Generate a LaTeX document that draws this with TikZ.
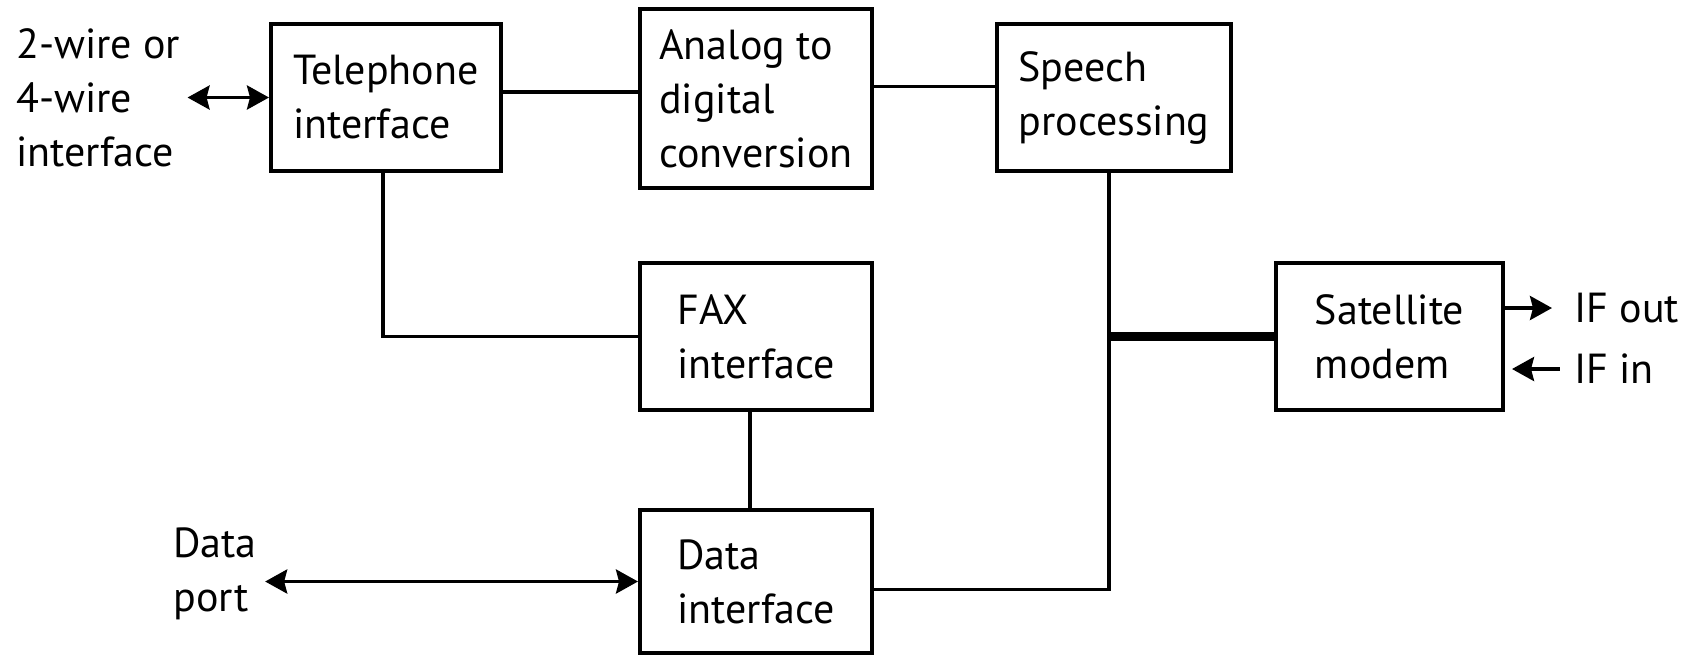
\documentclass[tikz,border=0pt]{standalone}
\usepackage{fontspec}
\setmainfont{PT Sans}
\usetikzlibrary{arrows.meta,positioning}

\begin{document}
\begin{tikzpicture}[x=0.5pt,y=-0.5pt,
>={Stealth[length=11pt,width=12pt,inset=1.5pt]},
every node/.style={align=left, font=\fontsize{21}{27}\selectfont},
block/.style={draw=black, line width=2pt, inner sep=0pt,
    minimum width=116pt, minimum height=73.5pt},
lbl/.style={inner sep=0pt},
conn/.style={black, line width=1.8pt},
busline/.style={black, line width=4.5pt}]
\useasboundingbox (0,0) rectangle (1696,655);

% blocks
\node [block, minimum width=115pt] (tel) at (386,97.5) {Telephone\\interface};
\node [block, minimum height=89.5pt] (adc) at (756,98.5) {Analog to\\digital\\conversion};
\node [block, minimum width=117pt] (sp) at (1114,97.5) {Speech\\processing};
\node [block, below=35.5pt of adc] (fax) {FAX\\interface};
\node [block, below=48pt of fax, minimum height=71.5pt] (dat) {Data\\interface};
\node [block, minimum width=113.5pt] (sat) at (1389.5,336.5) {Satellite\\modem};

% outside labels
\node [lbl, anchor=west] (twowire) at (16,97.5) {2-wire or\\4-wire\\interface};
\node [lbl, anchor=west] (port) at (173,574) {Data\\port};
\node [lbl, anchor=west] (ifout) at (1574,308) {IF out};
\node [lbl, anchor=west] (ifin) at (1574,369) {IF in};

% connections
\draw [conn, <->, shorten <=3.5pt] (twowire.east) -- (tel.west);
\draw [conn, <->, shorten <=4pt] (port.east |- dat.west) -- (dat.west);
\draw [conn] ([yshift=2.75pt]tel.east) -- ([yshift=2.75pt]tel.east -| adc.west);
\draw [conn] ([yshift=6pt]adc.east) -- ([yshift=6pt]adc.east -| sp.west);
\draw [conn] ([xshift=-1.5pt]tel.south) |- (fax.west);
\draw [conn] ([xshift=-3pt]fax.south) -- ([xshift=-3pt]dat.north);
\draw [conn] ([xshift=-2.5pt]sp.south) |- ([yshift=-4pt]dat.east);
\coordinate (junc) at ([xshift=-2.5pt]sp.south |- sat.west);
\draw [busline] (junc) -- (sat.west);
\draw [conn, ->, shorten >=11pt] (sat.east |- ifout) -- (ifout.west);
\draw [conn, <-, shorten <=3.5pt, shorten >=7pt] (sat.east |- ifin) -- (ifin.west);
\end{tikzpicture}
\end{document}
